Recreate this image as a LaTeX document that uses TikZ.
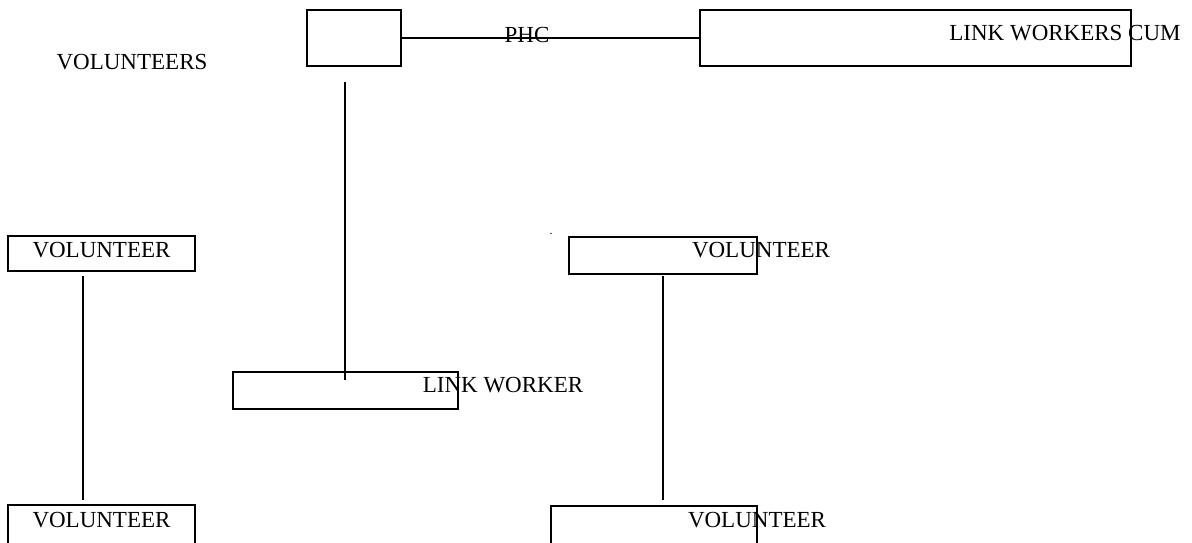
\documentclass[tikz,border=0pt]{standalone}
\usepackage{fontspec}
\setmainfont{Liberation Serif}
\begin{document}
\begin{tikzpicture}[x=0.5pt,y=-0.5pt,
  box/.style={draw,line width=1pt,rectangle,inner sep=0pt},
  lbl/.style={inner sep=0pt,font=\fontsize{11.5}{13}\selectfont},
  conn/.style={line width=1.3pt}]
\useasboundingbox (0,0) rectangle (1192,542);
% boxes
\node[box,minimum width=47pt,minimum height=28pt] (phc) at (354,38) {};
\node[box,minimum width=215.5pt,minimum height=28pt] (lwc) at (915.5,38) {};
\node[box,minimum width=112.5pt,minimum height=18.5pt] (lw) at (345.5,390.5) {};
\node[box,minimum width=93.5pt,minimum height=17.5pt] (v1) at (101.5,253.5) {};
\node[box,minimum width=93.5pt,minimum height=20pt] (v2) at (101.5,525) {};
\node[box,minimum width=94pt,minimum height=18.5pt] (v3) at (663,255.5) {};
\node[box,minimum width=103pt,minimum height=20pt] (v4) at (654,526) {};
% texts
\node[lbl] (tphc) at (527,35) {PHC};
\node[lbl] (tlwc) at (1065,33) {LINK WORKERS CUM};
\node[lbl] (tvols) at (132,62) {VOLUNTEERS};
\node[lbl] (tlw) at (503,385) {LINK WORKER};
\node[lbl] (tv1) at (101.5,250) {VOLUNTEER};
\node[lbl] (tv2) at (101.5,520) {VOLUNTEER};
\node[lbl] (tv3) at (761,250) {VOLUNTEER};
\node[lbl] (tv4) at (757,520) {VOLUNTEER};
\node[lbl,font=\fontsize{6}{7}\selectfont] (dot) at (551,234) {.};
% connectors
\coordinate (a1) at (345,82);
\coordinate (a2) at (345,380);
\coordinate (b1) at (83,276);
\coordinate (b2) at (83,500);
\coordinate (c1) at (663,276);
\coordinate (c2) at (663,500);
\draw[conn] (phc.east) -- (lwc.west);
\draw[conn] (a1) -- (a2);
\draw[conn] (b1) -- (b2);
\draw[conn] (c1) -- (c2);
\end{tikzpicture}
\end{document}
